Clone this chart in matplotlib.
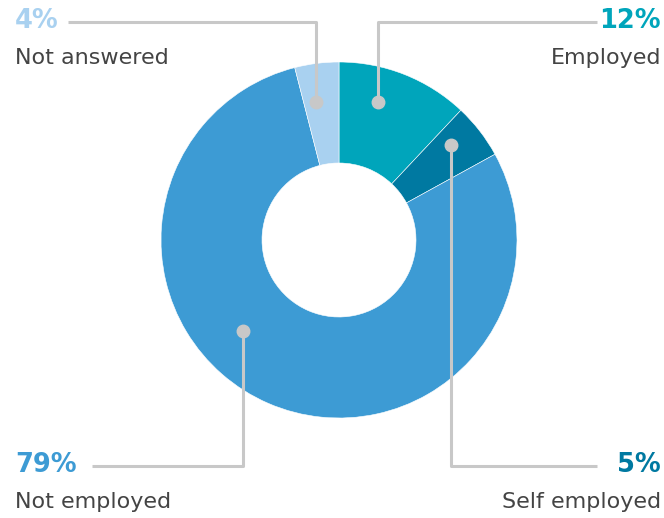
import matplotlib.pyplot as plt

# employment status shares
labels = ["Employed", "Self employed", "Not employed", "Not answered"]
values = [12, 5, 79, 4]
colors = ["#00A5BB", "#0079A1", "#3D9BD4", "#A9D1F0"]

plt.rcParams['font.family'] = ['DejaVu Sans']

W, H = 664, 518
fig = plt.figure(figsize=(W / 100, H / 100), dpi=100)
ax = fig.add_axes([0, 0, 1, 1])

cx, cy, r_out, r_in = 339, 240, 178, 77
# y axis is flipped, so counterclock=True draws clockwise on screen;
# startangle -90 puts the first wedge at the top
ax.pie(values, colors=colors, startangle=-90, counterclock=True,
       center=(cx, cy), radius=r_out, frame=True,
       wedgeprops=dict(width=r_out - r_in, edgecolor='white', linewidth=0.4))
ax.set_xlim(0, W)
ax.set_ylim(H, 0)
ax.set_aspect('equal')
ax.axis('off')

grey = "#C8C8C8"
lw = 2.2

def leader(pts, dot):
    xs, ys = zip(*pts)
    ax.plot(xs, ys, color=grey, lw=lw, solid_capstyle='butt', zorder=3)
    ax.plot(*dot, 'o', color=grey, ms=9, zorder=4)

leader([(68, 22), (316, 22), (316, 102)], (316, 102))
leader([(378, 102), (378, 22), (597, 22)], (378, 102))
leader([(451, 145), (451, 466), (597, 466)], (451, 145))
leader([(243, 331), (243, 466), (92, 466)], (243, 331))

txt = "#444444"
pct_size, lab_size = 18.5, 16

def label(x, y, name, val, color, ha):
    ax.text(x, y, f"{val}%", color=color, fontsize=pct_size, fontweight='bold',
            ha=ha, va='center')
    ax.text(x, y + 37, name, color=txt, fontsize=lab_size, ha=ha, va='center')

label(15, 21, labels[3], values[3], colors[3], 'left')
label(661, 21, labels[0], values[0], colors[0], 'right')
label(661, 465, labels[1], values[1], colors[1], 'right')
label(15, 465, labels[2], values[2], colors[2], 'left')

fig.savefig("out.png", dpi=100)
